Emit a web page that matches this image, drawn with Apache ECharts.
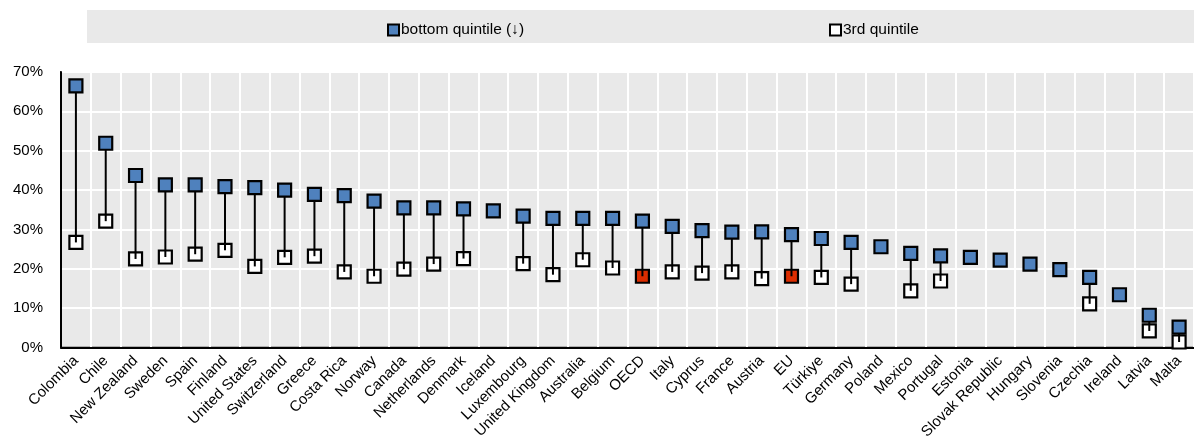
<!DOCTYPE html>
<html>
<head>
<meta charset="utf-8">
<script src="https://cdn.jsdelivr.net/npm/echarts@6/dist/echarts.min.js"></script>
<style>
html, body { margin: 0; padding: 0; background: #fff; }
#chart { width: 1194px; height: 448px; }
</style>
</head>
<body>
<div id="chart"></div>
<script>
// countries, sorted by bottom quintile
const countries = ['Colombia', 'Chile', 'New Zealand', 'Sweden', 'Spain', 'Finland', 'United States',
  'Switzerland', 'Greece', 'Costa Rica', 'Norway', 'Canada', 'Netherlands', 'Denmark', 'Iceland',
  'Luxembourg', 'United Kingdom', 'Australia', 'Belgium', 'OECD', 'Italy', 'Cyprus', 'France',
  'Austria', 'EU', 'Türkiye', 'Germany', 'Poland', 'Mexico', 'Portugal', 'Estonia',
  'Slovak Republic', 'Hungary', 'Slovenia', 'Czechia', 'Ireland', 'Latvia', 'Malta'];
const bottomQuintile = [66.5, 51.9, 43.7, 41.3, 41.3, 40.9, 40.6, 40.0, 38.9, 38.6, 37.2, 35.5, 35.5,
  35.2, 34.7, 33.4, 32.8, 32.8, 32.8, 32.1, 30.8, 29.7, 29.3, 29.4, 28.7, 27.7, 26.7, 25.6, 23.9,
  23.3, 22.9, 22.2, 21.2, 19.8, 17.8, 13.4, 8.2, 5.2];
const thirdQuintile = [26.7, 32.1, 22.5, 23.0, 23.7, 24.7, 20.6, 22.9, 23.2, 19.2, 18.1, 19.9, 21.2,
  22.6, null, 21.3, 18.5, 22.3, 20.2, 18.1, 19.2, 18.9, 19.2, 17.5, 18.1, 17.8, 16.1, null, 14.4,
  16.9, null, null, null, null, 11.1, null, 4.2, 1.4];
const yTicks = [0, 10, 20, 30, 40, 50, 60, 70];
const highlight = ['OECD', 'EU'];

const FONT = "'Liberation Sans', Arial, sans-serif";
const BLUE = '#4f81bd';
const RED = '#dc2d00';

let myChart = echarts.init(document.getElementById('chart'));

let thirdData = thirdQuintile.map((v, i) => {
  if (highlight.indexOf(countries[i]) >= 0) {
    return { value: v, itemStyle: { color: RED } };
  }
  return v;
});

// segments between the two quintiles
let rangeData = [];
countries.forEach((c, i) => {
  if (thirdQuintile[i] != null) rangeData.push([i, bottomQuintile[i], thirdQuintile[i]]);
});

let option = {
  animation: false,
  textStyle: { fontFamily: FONT },
  graphic: [{
    type: 'rect',
    shape: { x: 87, y: 10, width: 1110, height: 33 },
    style: { fill: '#e9e9e9' },
    z: -1
  }],
  legend: [{
    data: ['bottom quintile (↓)'],
    left: 382, top: 17,
    itemWidth: 11, itemHeight: 11,
    textStyle: { fontSize: 15.5, color: '#000', fontFamily: FONT, padding: [0, 0, 0, -3] }
  }, {
    data: ['3rd quintile'],
    left: 824, top: 17,
    itemWidth: 11, itemHeight: 11,
    textStyle: { fontSize: 15.5, color: '#000', fontFamily: FONT, padding: [0, 0, 0, -3] }
  }],
  grid: {
    left: 61, top: 72, width: 1142, height: 275.5,
    show: true, backgroundColor: '#e9e9e9', borderColor: '#000', borderWidth: 1.5
  },
  xAxis: {
    type: 'category',
    data: countries,
    axisLine: { lineStyle: { color: '#000', width: 2 } },
    axisTick: { inside: true, length: 5, lineStyle: { color: '#000', width: 1.5 } },
    splitLine: { show: true, lineStyle: { color: '#fff', width: 2 } },
    axisLabel: { interval: 0, rotate: 45, margin: 11, fontSize: 15, color: '#000', fontFamily: FONT }
  },
  yAxis: {
    type: 'value',
    min: yTicks[0], max: yTicks[yTicks.length - 1], interval: 10,
    axisLine: { show: true, lineStyle: { color: '#000', width: 2 } },
    axisTick: { show: false },
    splitLine: { lineStyle: { color: '#fff', width: 2 } },
    axisLabel: { formatter: '{value}%', fontSize: 15, color: '#000', margin: 18, fontFamily: FONT }
  },
  series: [
    {
      name: '3rd quintile',
      type: 'scatter',
      symbol: 'rect',
      symbolSize: 13,
      data: thirdData,
      itemStyle: { color: '#fff', borderColor: '#000', borderWidth: 2.2, opacity: 1 },
      z: 2
    },
    {
      type: 'custom',
      data: rangeData,
      renderItem: function (params, api) {
        let p1 = api.coord([api.value(0), api.value(1)]);
        let p2 = api.coord([api.value(0), api.value(2)]);
        return {
          type: 'line',
          shape: { x1: p1[0], y1: p1[1], x2: p2[0], y2: p2[1] },
          style: { stroke: '#000', lineWidth: 2 }
        };
      },
      z: 3
    },
    {
      name: 'bottom quintile (↓)',
      type: 'scatter',
      symbol: 'rect',
      symbolSize: 13,
      data: bottomQuintile,
      itemStyle: { color: BLUE, borderColor: '#000', borderWidth: 2.2, opacity: 1 },
      z: 4
    }
  ]
};

myChart.setOption(option);
</script>
</body>
</html>
